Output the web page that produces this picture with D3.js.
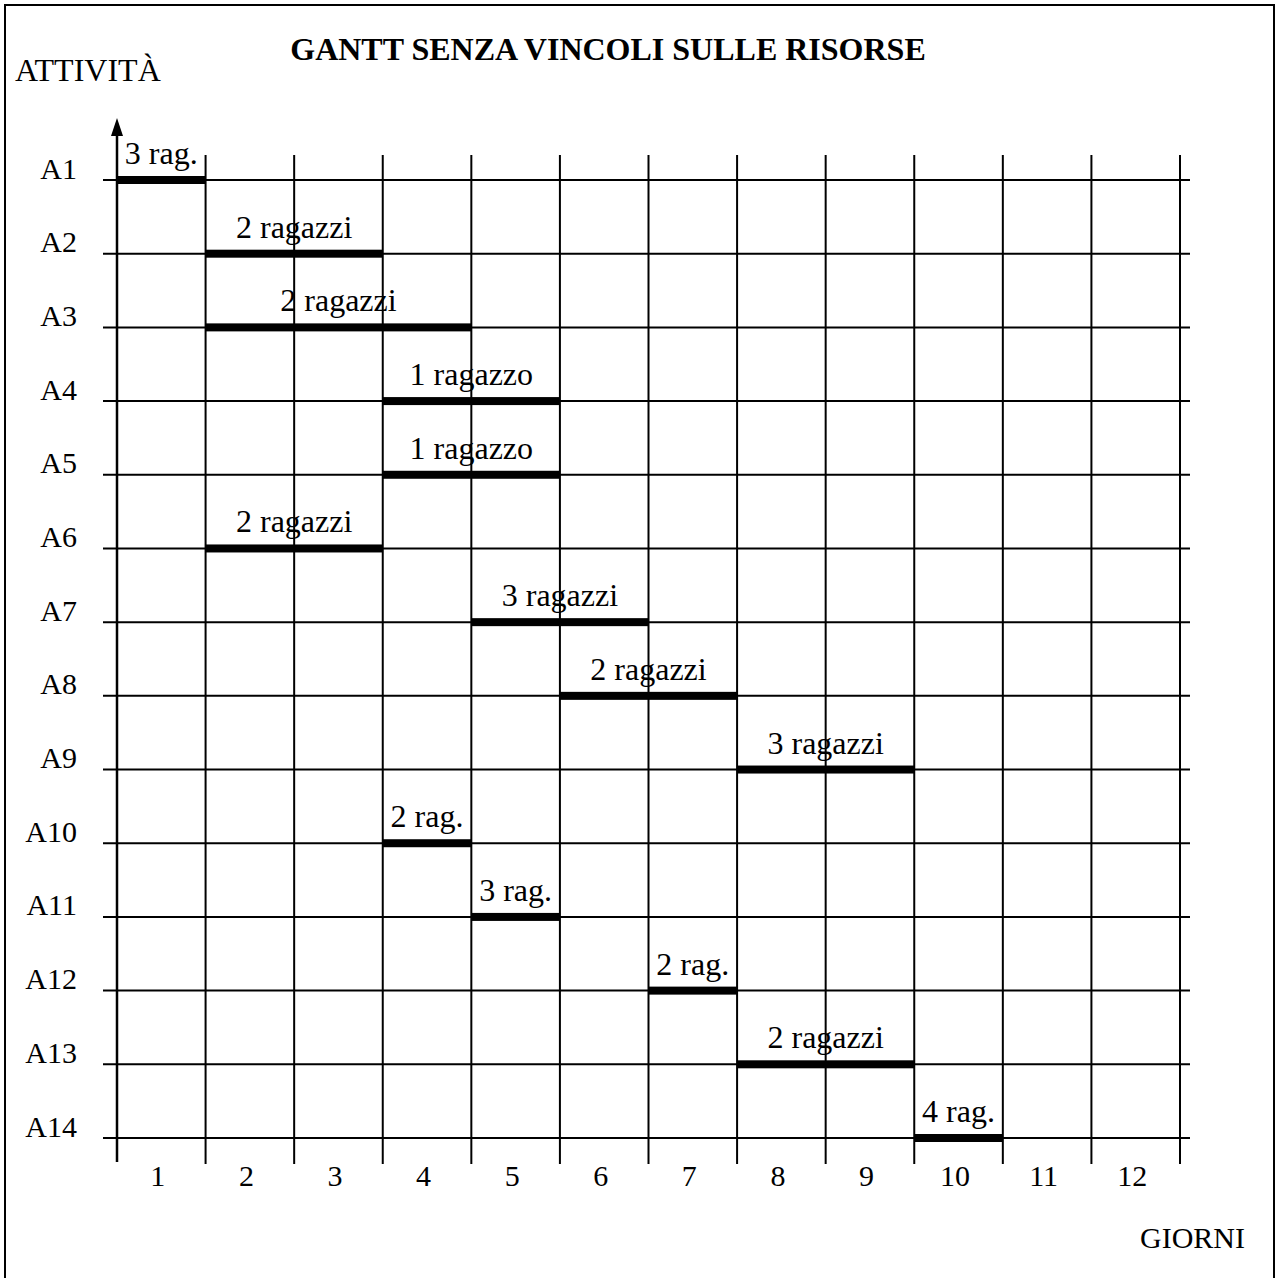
<!DOCTYPE html>
<html>
<head>
<meta charset="utf-8">
<script src="https://cdn.jsdelivr.net/npm/d3@7"></script>
<style>
  body { margin: 0; background: #ffffff; }
  svg text { font-family: "Liberation Serif", "Times New Roman", serif; fill: #000000; }
</style>
</head>
<body>
<div id="gantt"></div>
<script>
///////////////////////////////////////////////
// Data ///////////////////////////////////////
///////////////////////////////////////////////

var activities = ["A1", "A2", "A3", "A4", "A5", "A6", "A7", "A8", "A9", "A10", "A11", "A12", "A13", "A14"];
var starts     = [0, 1, 1, 3, 3, 1, 4, 5, 7, 3, 4, 6, 7, 9];
var ends       = [1, 3, 4, 5, 5, 3, 6, 7, 9, 4, 5, 7, 9, 10];
var resources  = ["3 rag.", "2 ragazzi", "2 ragazzi", "1 ragazzo", "1 ragazzo", "2 ragazzi", "3 ragazzi",
                  "2 ragazzi", "3 ragazzi", "2 rag.", "3 rag.", "2 rag.", "2 ragazzi", "4 rag."];
var days       = [1, 2, 3, 4, 5, 6, 7, 8, 9, 10, 11, 12];

var tasks = activities.map(function(a, i) {
  return { name: a, start: starts[i], end: ends[i], label: resources[i] };
});

///////////////////////////////////////////////
// Graph parameters ///////////////////////////
///////////////////////////////////////////////

var W = 1277, H = 1278;
var fontSize = 30,
    labelSize = 32;

var svg = d3.select("#gantt").append("svg")
    .attr("width", W)
    .attr("height", H);

// frame
svg.append("rect")
    .attr("x", 5).attr("y", 5)
    .attr("width", 1269).attr("height", 1300)
    .attr("fill", "none")
    .attr("stroke", "#000")
    .attr("stroke-width", 2);

///////////////////////////////////////////////
// Scales /////////////////////////////////////
///////////////////////////////////////////////

var x = d3.scaleLinear()
    .domain([0, 12])
    .range([117, 1180]);

var y = d3.scalePoint()
    .domain(activities)
    .range([180, 1138]);

///////////////////////////////////////////////
// Grid ///////////////////////////////////////
///////////////////////////////////////////////

var grid = svg.append("g").attr("class", "grid");

// horizontal lines, one per activity
grid.selectAll(".hline")
    .data(activities)
    .enter().append("line")
    .attr("class", "hline")
    .attr("x1", 103)
    .attr("x2", 1190)
    .attr("y1", function(d) { return y(d); })
    .attr("y2", function(d) { return y(d); })
    .attr("stroke", "#000")
    .attr("stroke-width", 2);

// vertical lines, one per day boundary
grid.selectAll(".vline")
    .data(days)
    .enter().append("line")
    .attr("class", "vline")
    .attr("x1", function(d) { return x(d); })
    .attr("x2", function(d) { return x(d); })
    .attr("y1", 155)
    .attr("y2", 1164)
    .attr("stroke", "#000")
    .attr("stroke-width", 2);

// activity axis with arrow
grid.append("line")
    .attr("x1", x(0)).attr("x2", x(0))
    .attr("y1", 132).attr("y2", 1162)
    .attr("stroke", "#000")
    .attr("stroke-width", 2.5);

grid.append("path")
    .attr("d", d3.line()([[x(0) - 6, 136], [x(0), 118], [x(0) + 6, 136]]) + "Z")
    .attr("fill", "#000");

///////////////////////////////////////////////
// Axes labels ////////////////////////////////
///////////////////////////////////////////////

var yAxis = d3.axisLeft(y).tickSize(0).tickPadding(0);

svg.append("g")
    .attr("class", "axisY")
    .attr("transform", "translate(77,0)")
    .call(yAxis)
    .call(function(g) {
      g.select(".domain").remove();
      g.selectAll(".tick text")
        .attr("x", 0)
        .attr("dy", -2)
        .style("font-size", fontSize + "px")
        .style("font-family", "Liberation Serif")
        .style("text-anchor", "end");
    });

var xAxis = d3.axisBottom(x)
    .tickValues(days.map(function(d) { return d - 0.5; }))
    .tickFormat(function(d) { return d + 0.5; })
    .tickSize(0)
    .tickPadding(0);

svg.append("g")
    .attr("class", "axisX")
    .attr("transform", "translate(-4,1186)")
    .call(xAxis)
    .call(function(g) {
      g.select(".domain").remove();
      g.selectAll(".tick text")
        .attr("y", 0)
        .attr("dy", 0)
        .style("font-size", fontSize + "px")
        .style("font-family", "Liberation Serif");
    });

svg.append("text")
    .attr("x", 1140)
    .attr("y", 1248)
    .style("font-size", fontSize + "px")
    .text("GIORNI");

svg.append("text")
    .attr("x", 15)
    .attr("y", 81)
    .style("font-size", "32px")
    .text("ATTIVITÀ");

svg.append("text")
    .attr("x", 608)
    .attr("y", 60)
    .attr("text-anchor", "middle")
    .style("font-size", "32px")
    .style("font-weight", "bold")
    .text("GANTT SENZA VINCOLI SULLE RISORSE");

///////////////////////////////////////////////
// Bars ///////////////////////////////////////
///////////////////////////////////////////////

var bars = svg.append("g").attr("class", "bars")
    .selectAll("g")
    .data(tasks)
    .enter().append("g");

bars.append("rect")
    .attr("x", function(d) { return x(d.start); })
    .attr("y", function(d) { return y(d.name) - 4; })
    .attr("width", function(d) { return x(d.end) - x(d.start); })
    .attr("height", 8)
    .attr("fill", "#000");

bars.append("text")
    .attr("x", function(d) { return (x(d.start) + x(d.end)) / 2; })
    .attr("y", function(d) { return y(d.name) - 16; })
    .attr("text-anchor", "middle")
    .style("font-size", labelSize + "px")
    .text(function(d) { return d.label; });
</script>
</body>
</html>
